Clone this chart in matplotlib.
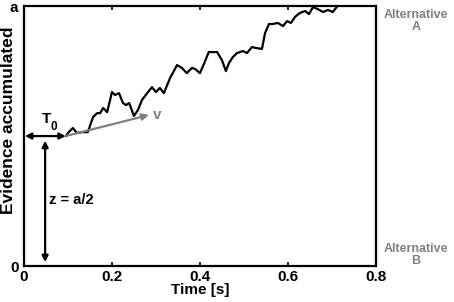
import matplotlib
matplotlib.use("Agg")
import matplotlib.pyplot as plt

plt.rcParams['font.family'] = ['Liberation Sans', 'DejaVu Sans']
plt.rcParams['font.weight'] = 'bold'

# Trace data (time in s, evidence as fraction of a)
time = [0.0955, 0.100, 0.111, 0.120, 0.132, 0.145, 0.157, 0.166, 0.173, 0.180,
        0.189, 0.200, 0.207, 0.216, 0.225, 0.232, 0.239, 0.250, 0.259, 0.268,
        0.280, 0.291, 0.300, 0.309, 0.318, 0.332, 0.348, 0.359, 0.370, 0.382,
        0.389, 0.400, 0.411, 0.420, 0.439, 0.450, 0.459, 0.466, 0.475, 0.484,
        0.498, 0.507, 0.518, 0.530, 0.541, 0.548, 0.557, 0.566, 0.577, 0.589,
        0.598, 0.607, 0.616, 0.627, 0.639, 0.648, 0.657, 0.668, 0.680, 0.691,
        0.702, 0.711]
evidence = [0.500, 0.512, 0.531, 0.512, 0.515, 0.515, 0.573, 0.588, 0.588, 0.608,
            0.592, 0.669, 0.658, 0.665, 0.627, 0.619, 0.627, 0.577, 0.600, 0.638,
            0.665, 0.688, 0.669, 0.685, 0.665, 0.723, 0.773, 0.762, 0.742, 0.762,
            0.758, 0.742, 0.785, 0.823, 0.823, 0.792, 0.750, 0.781, 0.804, 0.819,
            0.827, 0.819, 0.842, 0.838, 0.835, 0.896, 0.931, 0.931, 0.935, 0.923,
            0.942, 0.935, 0.958, 0.973, 0.981, 0.969, 0.996, 0.988, 0.977, 0.985,
            0.977, 0.996]

x_ticks = [0, 0.2, 0.4, 0.6, 0.8]
x_tick_labels = ['0', '0.2', '0.4', '0.6', '0.8']
y_ticks = [0, 1]
y_tick_labels = ['0', 'a']

T0 = 0.095
z = 0.5
z_arrow_t = 0.048
drift_end = (0.284, 0.581)

fig = plt.figure(figsize=(4.54, 3.02), dpi=100)
ax = fig.add_axes([0.0529, 0.119, 0.775, 0.861])
ax.set_xlim(0, 0.8)
ax.set_ylim(0, 1)

ax.plot(time, evidence, color='black', lw=1.6, zorder=3, clip_on=True)

# drift arrow
ax.annotate('', xy=drift_end, xytext=(T0, z),
            arrowprops=dict(arrowstyle='-|>', color='#808080', lw=1.6,
                            mutation_scale=10, shrinkA=0, shrinkB=0), zorder=4)
ax.text(drift_end[0] + 0.010, drift_end[1], 'v', color='#808080', fontsize=11,
        fontweight='bold', ha='left', va='center')

# T0 arrow
ax.annotate('', xy=(T0, z), xytext=(0.002, z),
            arrowprops=dict(arrowstyle='<|-|>', color='black', lw=1.6,
                            mutation_scale=9, shrinkA=0, shrinkB=0), zorder=5)
ax.text(0.052, 0.565, 'T', fontsize=11, fontweight='bold', ha='center', va='center')
ax.text(0.068, 0.535, '0', fontsize=8.5, fontweight='bold', ha='center', va='center')

# z arrow
ax.annotate('', xy=(z_arrow_t, 0.015), xytext=(z_arrow_t, 0.482),
            arrowprops=dict(arrowstyle='<|-|>', color='black', lw=1.6,
                            mutation_scale=9, shrinkA=0, shrinkB=0), zorder=5)
ax.text(0.057, 0.254, 'z = a/2', fontsize=10.5, fontweight='bold', ha='left', va='center')

# axes styling
for s in ax.spines.values():
    s.set_linewidth(1.6)
ax.set_xticks(x_ticks)
ax.set_xticklabels(x_tick_labels)
ax.set_yticks(y_ticks)
ax.set_yticklabels(y_tick_labels)
ax.tick_params(axis='both', direction='in', length=3, width=1.2, labelsize=11,
               top=True, pad=3)
ax.tick_params(axis='y', length=0, pad=4)
for lab in ax.get_xticklabels() + ax.get_yticklabels():
    lab.set_fontweight('bold')
ax.set_xlabel('Time [s]', fontsize=11, fontweight='bold', labelpad=-1)
ax.set_ylabel('Evidence accumulated', fontsize=12.5, fontweight='bold', va='center')
ax.yaxis.set_label_coords(-8 / 352 * 2, 0.56)

# Alternatives
fig.text(416 / 454, 1 - 21 / 302, 'Alternative\nA', color='#808080', fontsize=9,
         fontweight='bold', ha='center', va='center', linespacing=0.95)
fig.text(416 / 454, 1 - 255 / 302, 'Alternative\nB', color='#808080', fontsize=9,
         fontweight='bold', ha='center', va='center', linespacing=0.95)

fig.savefig('out.png', dpi=100)
